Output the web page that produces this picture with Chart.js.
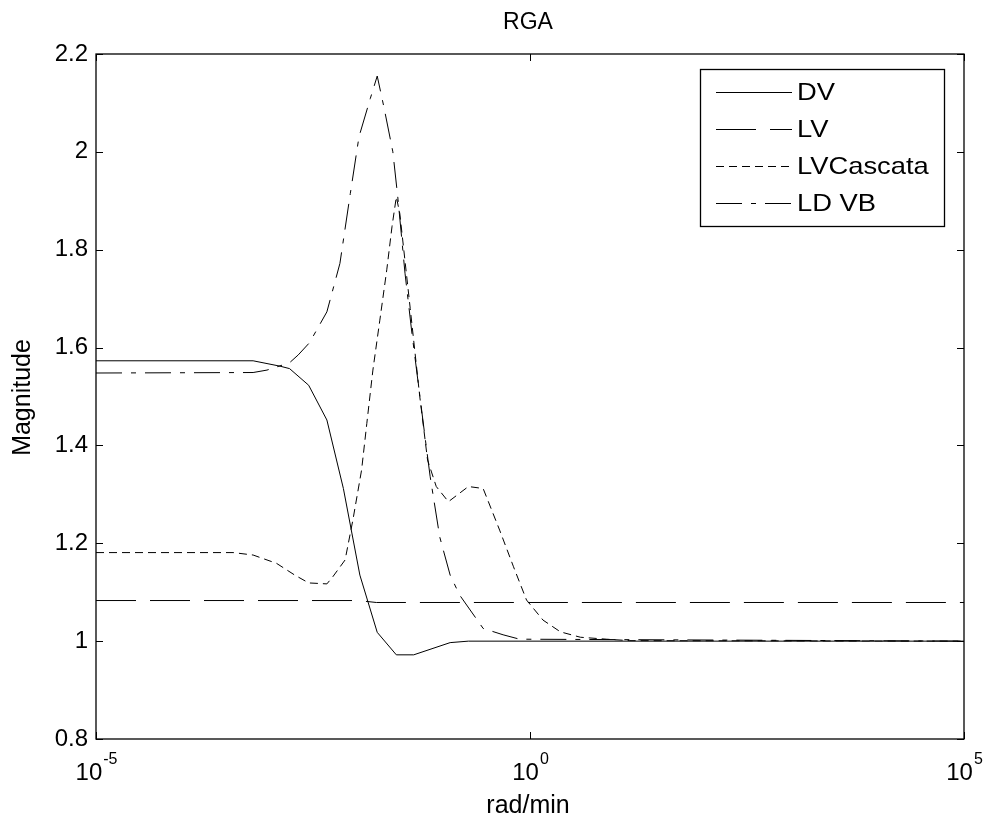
<!DOCTYPE html>
<html>
<head>
<meta charset="utf-8">
<script src="https://cdn.jsdelivr.net/npm/chart.js@4/dist/chart.umd.min.js"></script>
<style>
html,body{margin:0;padding:0;background:#fff;}
canvas{display:block;}
</style>
</head>
<body>
<canvas id="c" width="988" height="819"></canvas>
<script>
// ---- data (x as log10 of rad/min) ----
const seriesNames = ['DV', 'LV', 'LVCascata', 'LD VB'];

const dvLogW = [-5, -3.19, -2.88, -2.77, -2.55, -2.34, -2.15, -1.96, -1.76, -1.54, -1.34, -0.92, -0.71, 5];
const dvMag  = [1.573, 1.573, 1.562, 1.557, 1.523, 1.452, 1.312, 1.135, 1.018, 0.972, 0.972, 0.997, 1.0, 1.0];

const lvLogW = [-5, -1.98, -1.77, 5];
const lvMag  = [1.083, 1.083, 1.079, 1.079];

const lvcLogW = [-5, -3.42, -3.19, -2.92, -2.71, -2.55, -2.34, -2.27, -2.13, -2.04, -1.94, -1.88, -1.81, -1.73, -1.65, -1.59, -1.54, -1.50, -1.38, -1.27, -1.18, -1.08, -0.94, -0.71, -0.54, -0.35, -0.19, -0.04, 0.15, 0.35, 0.58, 0.88, 1.15, 5];
const lvcMag  = [1.181, 1.181, 1.176, 1.159, 1.135, 1.119, 1.117, 1.132, 1.166, 1.248, 1.350, 1.445, 1.554, 1.656, 1.759, 1.847, 1.908, 1.874, 1.68, 1.50, 1.37, 1.316, 1.285, 1.316, 1.312, 1.227, 1.152, 1.084, 1.043, 1.019, 1.008, 1.004, 1.001, 1.0];

const ldvbLogW = [-5, -3.19, -3.03, -2.77, -2.67, -2.54, -2.34, -2.19, -2.07, -1.97, -1.84, -1.76, -1.68, -1.58, -1.52, -1.44, -1.36, -1.21, -1.15, -1.04, -0.92, -0.81, -0.54, -0.31, -0.12, 5];
const ldvbMag  = [1.548, 1.549, 1.554, 1.569, 1.585, 1.610, 1.673, 1.772, 1.915, 2.031, 2.109, 2.155, 2.089, 2.0, 1.902, 1.752, 1.629, 1.418, 1.336, 1.213, 1.135, 1.094, 1.026, 1.013, 1.004, 1.0];

const yTickValues = [0.8, 1, 1.2, 1.4, 1.6, 1.8, 2, 2.2];
const yTickLabels = ['0.8', '1', '1.2', '1.4', '1.6', '1.8', '2', '2.2'];
const xTickValues = [1e-5, 1, 1e5];
const xTickBase = ['10', '10', '10'];
const xTickExp = ['-5', '0', '5'];

const chartTitle = 'RGA';
const xTitle = 'rad/min';
const yTitle = 'Magnitude';

// ---- build datasets ----
function pts(lw, mag) { return lw.map((e, i) => ({ x: Math.pow(10, e), y: mag[i] })); }

const FONT = '"Liberation Sans", Arial, Helvetica, sans-serif';

const datasets = [
  { label: seriesNames[0], data: pts(dvLogW, dvMag), borderDash: [] },
  { label: seriesNames[1], data: pts(lvLogW, lvMag), borderDash: [40, 14] },
  { label: seriesNames[2], data: pts(lvcLogW, lvcMag), borderDash: [8, 5] },
  { label: seriesNames[3], data: pts(ldvbLogW, ldvbMag), borderDash: [26, 9, 5, 9] }
].map(d => Object.assign(d, {
  borderColor: '#000', borderWidth: 1, pointRadius: 0, tension: 0, fill: false
}));

const decor = {
  id: 'decor',
  afterDraw(chart) {
    const ctx = chart.ctx, a = chart.chartArea;
    const xs = chart.scales.x, ys = chart.scales.y;
    ctx.save();
    ctx.strokeStyle = '#000';
    ctx.lineWidth = 1.3;
    ctx.setLineDash([]);
    ctx.strokeRect(a.left, a.top, a.right - a.left, a.bottom - a.top);
    ctx.lineWidth = 1;
    const tl = 7;
    ctx.beginPath();
    yTickValues.forEach(v => {
      const py = Math.round(ys.getPixelForValue(v)) + 0.5;
      ctx.moveTo(a.left, py); ctx.lineTo(a.left + tl, py);
      ctx.moveTo(a.right, py); ctx.lineTo(a.right - tl, py);
    });
    xTickValues.forEach(v => {
      const px = Math.round(xs.getPixelForValue(v)) + 0.5;
      ctx.moveTo(px, a.bottom); ctx.lineTo(px, a.bottom - tl);
      ctx.moveTo(px, a.top); ctx.lineTo(px, a.top + tl);
    });
    ctx.stroke();

    // x tick labels with superscripts
    ctx.fillStyle = '#000';
    ctx.textBaseline = 'alphabetic';
    xTickValues.forEach((v, i) => {
      const px = xs.getPixelForValue(v);
      ctx.font = '24px ' + FONT;
      const wb = ctx.measureText(xTickBase[i]).width;
      ctx.font = '16px ' + FONT;
      const we = ctx.measureText(xTickExp[i]).width;
      const x0 = px - (wb + we) / 2;
      ctx.font = '24px ' + FONT;
      ctx.textAlign = 'left';
      ctx.fillText(xTickBase[i], x0, 780);
      ctx.font = '16px ' + FONT;
      ctx.fillText(xTickExp[i], x0 + wb + 1, 764);
    });

    // titles
    ctx.textAlign = 'center';
    ctx.font = '23px ' + FONT;
    ctx.fillText(chartTitle, (a.left + a.right) / 2 - 2, 29);
    ctx.font = '25px ' + FONT;
    ctx.fillText(xTitle, (a.left + a.right) / 2 - 2, 813);
    ctx.save();
    ctx.translate(30, (a.top + a.bottom) / 2 + 1);
    ctx.rotate(-Math.PI / 2);
    ctx.font = '25px ' + FONT;
    ctx.fillText(yTitle, 0, 0);
    ctx.restore();

    // legend
    const bx = 700, by = 69, bw = 244, bh = 157;
    ctx.fillStyle = '#fff';
    ctx.fillRect(bx, by, bw, bh);
    ctx.lineWidth = 1.3;
    ctx.strokeRect(bx + 0.5, by + 0.5, bw, bh);
    chart.data.datasets.forEach((d, i) => {
      const ly = 92 + i * 37 + 0.5;
      ctx.lineWidth = 1;
      ctx.setLineDash(d.borderDash || []);
      ctx.beginPath();
      ctx.moveTo(716, ly); ctx.lineTo(792, ly);
      ctx.stroke();
      ctx.setLineDash([]);
      ctx.save();
      ctx.translate(797, ly);
      ctx.scale(1.14, 1);
      ctx.fillStyle = '#000';
      ctx.font = '24px ' + FONT;
      ctx.textAlign = 'left';
      ctx.textBaseline = 'middle';
      ctx.fillText(d.label, 0, 1);
      ctx.restore();
    });
    ctx.restore();
  }
};

new Chart(document.getElementById('c'), {
  type: 'line',
  data: { datasets },
  options: {
    responsive: false,
    animation: false,
    events: [],
    layout: { padding: { left: 0, right: 24, top: 54, bottom: 0 } },
    plugins: { legend: { display: false }, title: { display: false }, tooltip: { enabled: false } },
    scales: {
      x: {
        type: 'logarithmic',
        min: 1e-5, max: 1e5,
        grid: { display: false, drawTicks: false },
        border: { display: false },
        ticks: { display: false },
        afterBuildTicks: s => { s.ticks = xTickValues.map(v => ({ value: v })); },
        afterFit: s => { s.height = 80; }
      },
      y: {
        type: 'linear',
        min: 0.8, max: 2.2,
        grid: { display: false, drawTicks: false },
        border: { display: false },
        afterBuildTicks: s => { s.ticks = yTickValues.map(v => ({ value: v })); },
        ticks: {
          padding: 8,
          color: '#000',
          font: { family: FONT, size: 24 },
          callback: (v) => yTickLabels[yTickValues.indexOf(v)] ?? ''
        },
        afterFit: s => { s.width = 96; }
      }
    }
  },
  plugins: [decor]
});
</script>
</body>
</html>
